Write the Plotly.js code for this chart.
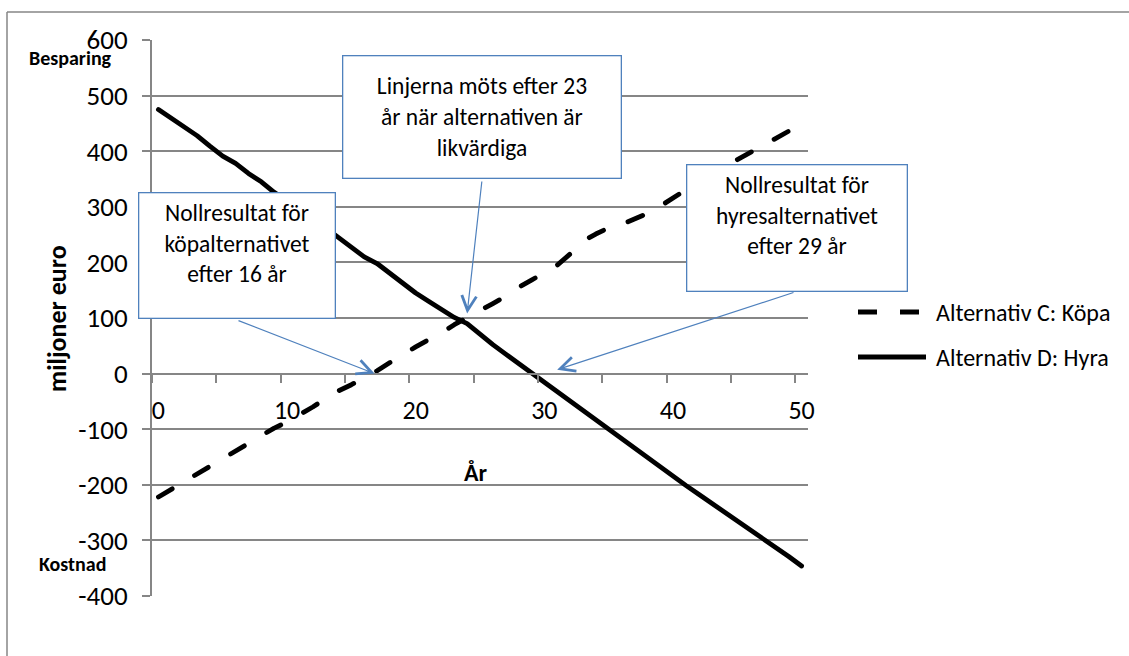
<!DOCTYPE html>
<html>
<head>
<meta charset="utf-8">
<script src="https://cdn.plot.ly/plotly-3.0.1.min.js"></script>
<style>
  html, body { margin: 0; padding: 0; background: #ffffff; }
  #chart { width: 1129px; height: 656px; }
  /* rounded ends on the series lines */
  #chart .scatterlayer path.js-line { stroke-linecap: round; stroke-linejoin: round; }
</style>
</head>
<body>
<div id="chart"></div>
<script>
// ---- data -------------------------------------------------------------
const years = [0, 1, 2, 3, 4, 5, 6, 7, 8, 9,
               10, 11, 12, 13, 14, 15, 16, 17, 18, 19,
               20, 21, 22, 23, 24, 25, 26, 27, 28, 29,
               30, 31, 32, 33, 34, 35, 36, 37, 38, 39,
               40, 41, 42, 43, 44, 45, 46, 47, 48, 49, 50];

// Alternativ C: Köpa (miljoner euro)
const kopa = [-222, -208, -194, -180, -166, -152, -138, -125, -111, -98,
              -87, -74, -60, -45, -31, -20, -8, 5, 20, 35,
              48, 61, 73, 88, 100, 112, 126, 139, 155, 168,
              182, 195, 215, 238, 251, 262, 268, 277, 288, 301,
              316, 332, 345, 359, 372, 385, 397, 411, 424, 436, 447];

// Alternativ D: Hyra (miljoner euro)
const hyra = [475, 459, 442, 428, 409, 391, 378, 360, 345, 326,
              310, 293, 277, 262, 245, 228, 210, 198, 180, 161,
              145, 130, 115, 101, 90, 70, 52, 35, 18, 3,
              -15, -32, -49, -66, -83, -100, -116, -134, -151, -168,
              -185, -201, -217, -233, -247, -264, -280, -296, -313, -329, -346];

const seriesNames = ['Alternativ C: Köpa', 'Alternativ D: Hyra'];
const xTickVals = [0, 10, 20, 30, 40, 50];
const yTickVals = [-400, -300, -200, -100, 0, 100, 200, 300, 400, 500, 600];

// callouts: text and the (year, value) each arrow points at
const calloutTexts = [
  'Nollresultat för<br>köpalternativet<br>efter 16 år',
  'Linjerna möts efter 23<br>år när alternativen är<br>likvärdiga',
  'Nollresultat för<br>hyresalternativet<br>efter 29 år'
];
const calloutYears = [16.8, 24.0, 31.0];
const calloutValues = [0, 108, 7];

// ---- layout helpers ---------------------------------------------------
const W = 1129, H = 656;
const M = { l: 152, r: 321, t: 40, b: 60 };
const plotW = W - M.l - M.r;
const plotH = H - M.t - M.b;
const px = (x) => (x - M.l) / plotW;          // page px -> paper x
const py = (y) => (H - M.b - y) / plotH;      // page px -> paper y

const FONT = 'Carlito, Lato, "Open Sans", sans-serif';
const GRID = '#868686';
const BLUE = '#4F81BD';
const BW = 1.3;

function calloutBox(text, x0, y0, x1, y1, valign, pad) {
  return {
    xref: 'paper', yref: 'paper',
    x: px((x0 + x1) / 2), y: py((y0 + y1) / 2),
    xanchor: 'center', yanchor: 'middle',
    text: text, showarrow: false,
    width: x1 - x0 - 2 * pad - 2 * BW,
    height: y1 - y0 - 2 * pad - 2 * BW,
    bordercolor: BLUE, borderwidth: BW, borderpad: pad,
    bgcolor: '#ffffff', align: 'center', valign: valign,
    font: { family: FONT, size: 23.5, color: '#000000' }
  };
}

function calloutArrow(i, tailX, tailY, headPx) {
  return {
    xref: 'x', yref: 'y',
    x: calloutYears[i], y: calloutValues[i],
    ax: tailX - headPx.x, ay: tailY - headPx.y,
    axref: 'pixel', ayref: 'pixel',
    text: '', showarrow: true,
    arrowhead: 5, arrowsize: 2.4, arrowwidth: 1.2, arrowcolor: BLUE,
    standoff: 0, startstandoff: 0
  };
}

// page position of a data point (same scale as the axes below)
function dataToPage(xv, yv) {
  const xr = [-0.5, 50.5], yr = [-400, 600];
  return {
    x: M.l + (xv - xr[0]) / (xr[1] - xr[0]) * plotW,
    y: M.t + (yr[1] - yv) / (yr[1] - yr[0]) * plotH
  };
}

// ---- traces -----------------------------------------------------------
const traces = [
  {
    x: years, y: kopa, name: seriesNames[0], type: 'scatter', mode: 'lines',
    line: { color: '#000000', width: 4.8, dash: '16px,26px' },
    showlegend: false, hoverinfo: 'skip'
  },
  {
    x: years, y: hyra, name: seriesNames[1], type: 'scatter', mode: 'lines',
    line: { color: '#000000', width: 4.8 },
    showlegend: false, hoverinfo: 'skip'
  }
];

// minor tick marks every 5 years, between categories
const minorTicks = [];
for (let t = -0.5; t <= 50; t += 5) minorTicks.push(t);

// ---- annotations ------------------------------------------------------
const annotations = [];
annotations.push(calloutArrow(0, 237, 320, dataToPage(calloutYears[0], calloutValues[0])));
annotations.push(calloutArrow(1, 482, 180, dataToPage(calloutYears[1], calloutValues[1])));
annotations.push(calloutArrow(2, 795, 292, dataToPage(calloutYears[2], calloutValues[2])));
annotations.push(calloutBox(calloutTexts[0], 138, 192, 336, 319, 'top', 6));
annotations.push(calloutBox(calloutTexts[1], 342, 55, 622, 179, 'middle', 6));
annotations.push(calloutBox(calloutTexts[2], 686, 164, 908, 292, 'top', 6));

const boldFont = (size) => ({ family: FONT, size: size, color: '#000000', weight: 'bold' });

annotations.push({
  xref: 'paper', yref: 'paper', x: px(70), y: py(58), xanchor: 'center', yanchor: 'middle',
  text: '<b>Besparing</b>', showarrow: false, font: boldFont(20)
});
annotations.push({
  xref: 'paper', yref: 'paper', x: px(72), y: py(564), xanchor: 'center', yanchor: 'middle',
  text: '<b>Kostnad</b>', showarrow: false, font: boldFont(20)
});
annotations.push({
  xref: 'paper', yref: 'paper', x: px(476), y: py(472), xanchor: 'center', yanchor: 'middle',
  text: '<b>År</b>', showarrow: false, font: boldFont(24)
});
annotations.push({
  xref: 'paper', yref: 'paper', x: px(57), y: py(319), xanchor: 'center', yanchor: 'middle',
  text: '<b>miljoner euro</b>', textangle: -90, showarrow: false, font: boldFont(26)
});

// legend: line samples + names
const legendRows = [312, 357];
annotations.push({
  xref: 'paper', yref: 'paper', x: px(934), y: py(legendRows[0]), xanchor: 'left', yanchor: 'middle',
  text: seriesNames[0], showarrow: false, font: { family: FONT, size: 24, color: '#000000' }
});
annotations.push({
  xref: 'paper', yref: 'paper', x: px(934), y: py(legendRows[1]), xanchor: 'left', yanchor: 'middle',
  text: seriesNames[1], showarrow: false, font: { family: FONT, size: 24, color: '#000000' }
});

const shapes = [
  // outer frame (top and left edges)
  { type: 'line', xref: 'paper', yref: 'paper', x0: px(7), x1: px(1135), y0: py(12), y1: py(12),
    line: { color: GRID, width: 1.5 } },
  { type: 'line', xref: 'paper', yref: 'paper', x0: px(7), x1: px(7), y0: py(12), y1: py(665),
    line: { color: GRID, width: 1.5 } },
  // legend samples
  { type: 'line', xref: 'paper', yref: 'paper', x0: px(858), x1: px(877), y0: py(legendRows[0]), y1: py(legendRows[0]),
    line: { color: '#000000', width: 5 } },
  { type: 'line', xref: 'paper', yref: 'paper', x0: px(900), x1: px(919), y0: py(legendRows[0]), y1: py(legendRows[0]),
    line: { color: '#000000', width: 5 } },
  { type: 'line', xref: 'paper', yref: 'paper', x0: px(858), x1: px(926), y0: py(legendRows[1]), y1: py(legendRows[1]),
    line: { color: '#000000', width: 5 } }
];

const layout = {
  width: W, height: H,
  margin: M,
  paper_bgcolor: '#ffffff', plot_bgcolor: '#ffffff',
  showlegend: false,
  font: { family: FONT, size: 22, color: '#000000' },
  xaxis: {
    range: [-0.5, 50.5],
    anchor: 'free', position: 0.4,
    showline: true, linecolor: GRID, linewidth: 2.5,
    showgrid: false, zeroline: false,
    tickmode: 'array', tickvals: xTickVals, ticktext: xTickVals.map(String),
    ticks: '', ticklabelstandoff: 13,
    tickfont: { family: FONT, size: 26, color: '#000000' },
    minor: { tickmode: 'array', tickvals: minorTicks, ticks: 'outside', ticklen: 8,
             tickwidth: 2, tickcolor: GRID, showgrid: false },
    fixedrange: true
  },
  yaxis: {
    range: [-400, 600],
    tickmode: 'array', tickvals: yTickVals, ticktext: yTickVals.map(String),
    showline: true, linecolor: GRID, linewidth: 2,
    showgrid: true, gridcolor: GRID, gridwidth: 2,
    zeroline: false,
    ticks: 'outside', ticklen: 8, tickwidth: 2, tickcolor: GRID,
    ticklabelstandoff: 9,
    tickfont: { family: FONT, size: 27, color: '#000000' },
    fixedrange: true
  },
  annotations: annotations,
  shapes: shapes
};

Plotly.newPlot('chart', traces, layout, { staticPlot: true, displayModeBar: false });
</script>
</body>
</html>
